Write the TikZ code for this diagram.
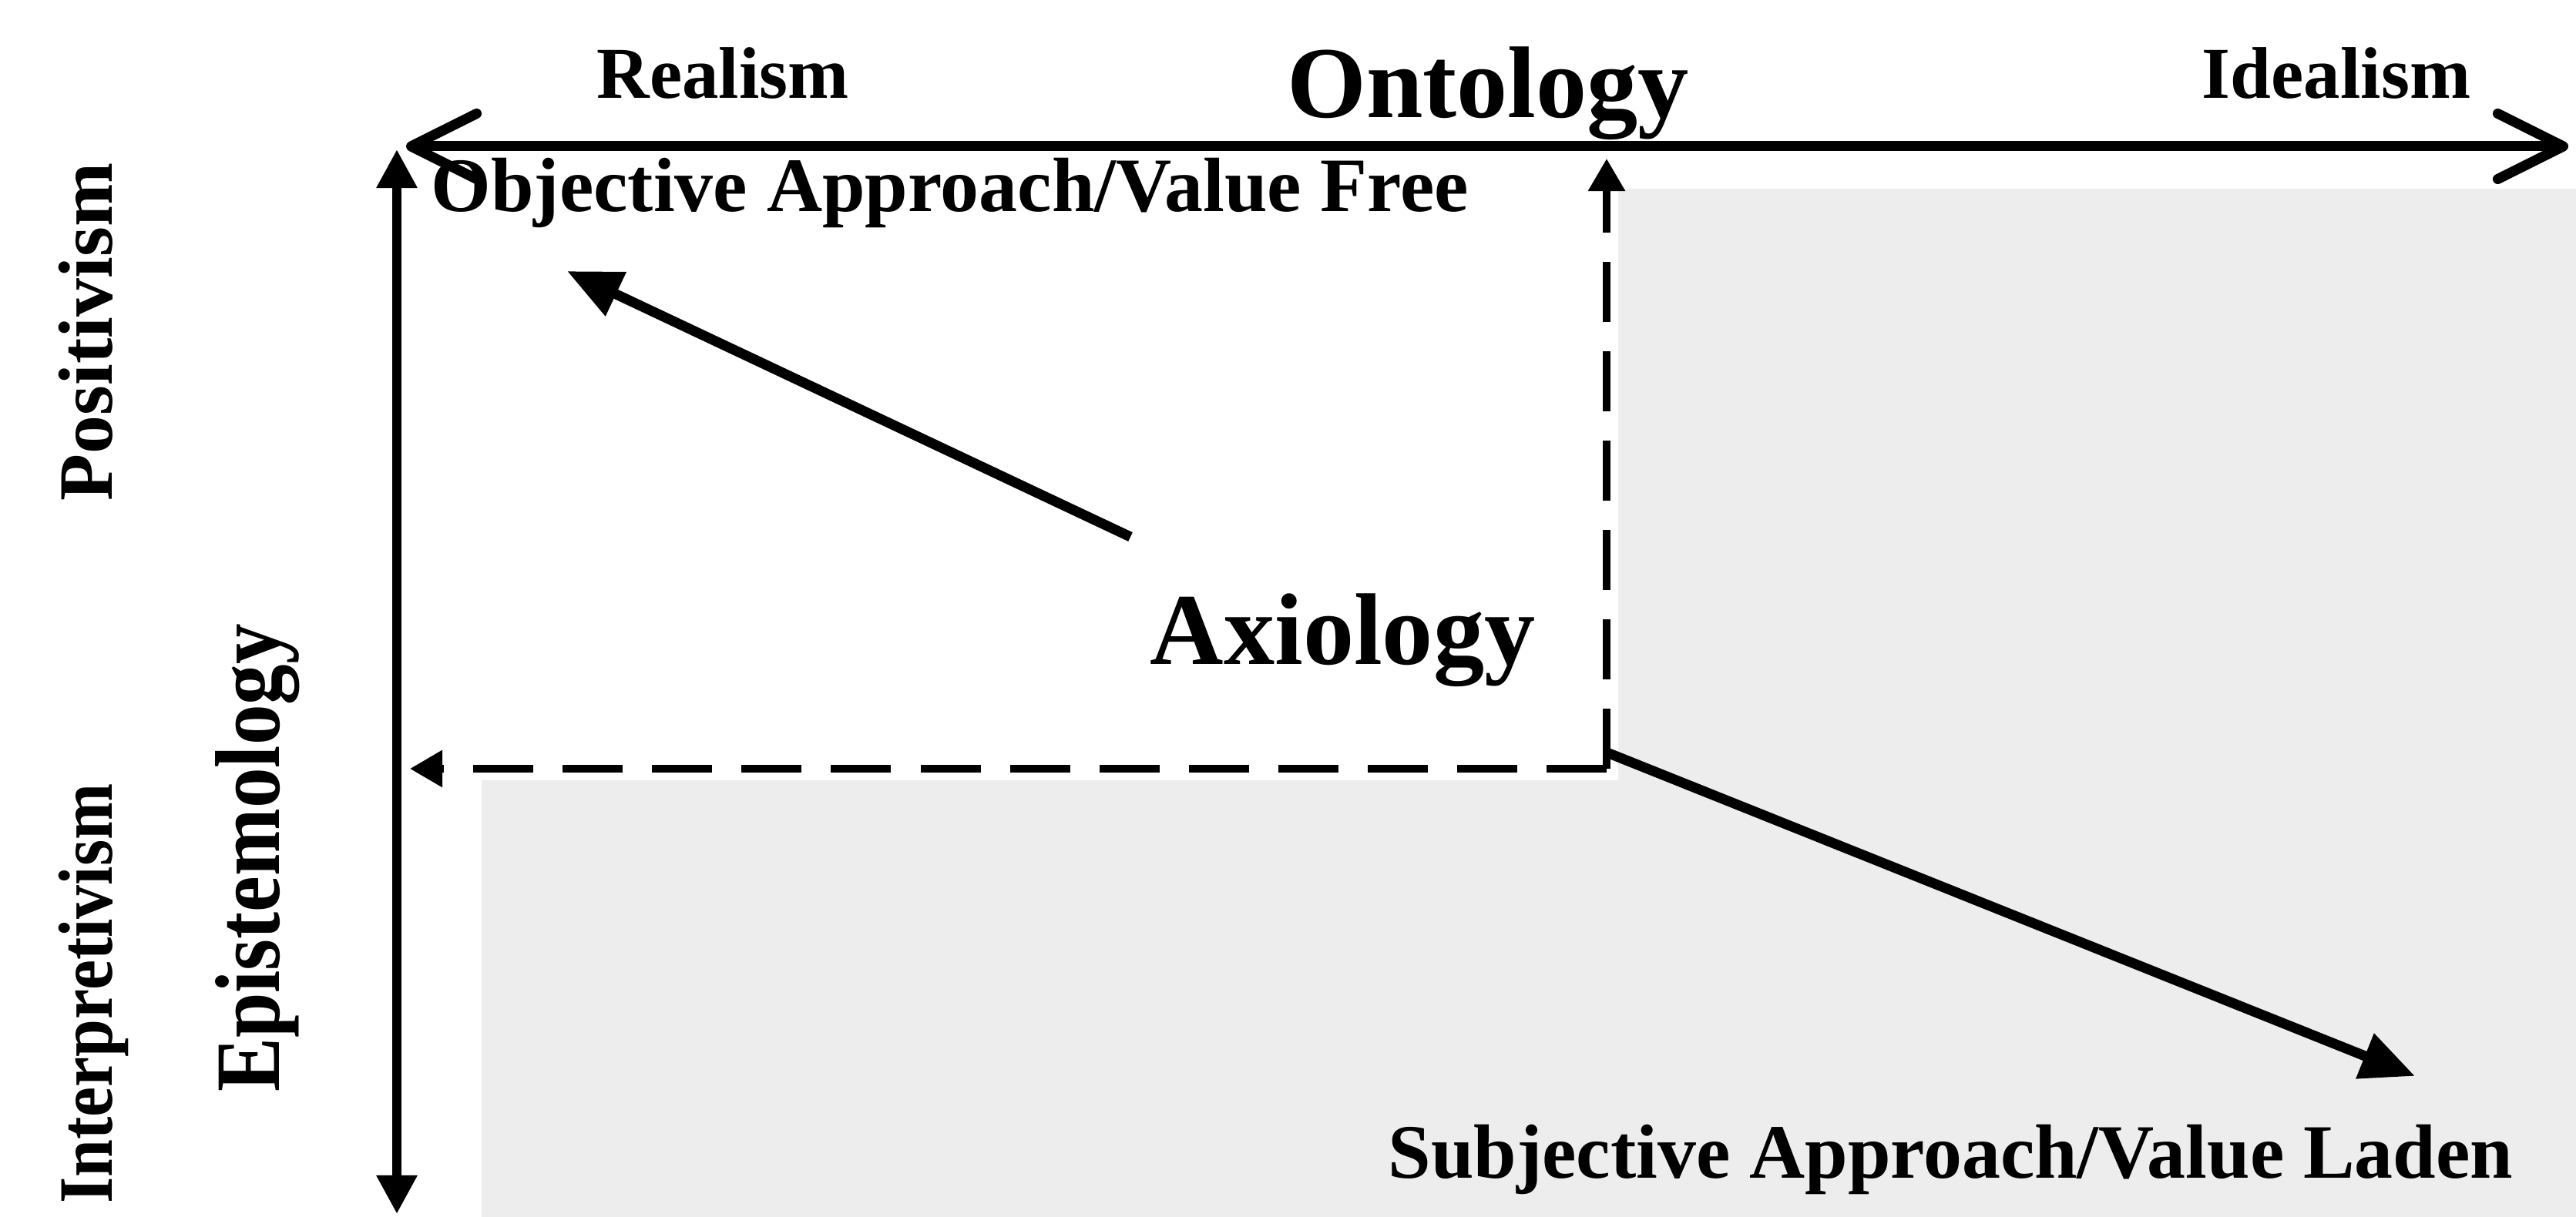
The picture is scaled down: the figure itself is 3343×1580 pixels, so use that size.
\documentclass[tikz,border=0pt]{standalone}
\usepackage{fontspec}
\setmainfont{Liberation Serif}
\usetikzlibrary{arrows.meta}
\definecolor{shadegray}{HTML}{EDEDED}
\begin{document}
\begin{tikzpicture}[x=0.01cm,y=-0.01cm,
  txtS/.style={font=\bfseries\fontsize{27}{30}\selectfont, inner sep=0pt},
  txtM/.style={font=\bfseries\fontsize{28.4}{32}\selectfont, inner sep=0pt},
  txtL/.style={font=\bfseries\fontsize{37.6}{42}\selectfont, inner sep=0pt},
  txtE/.style={font=\bfseries\fontsize{34}{38}\selectfont, inner sep=0pt},
  haxis/.style={line width=3.7pt, {Straight Barb[length=8.5mm,width=8.5mm,round]}-{Straight Barb[length=8.5mm,width=8.5mm,round]}},
  vaxis/.style={line width=3.4pt, {Triangle[length=5mm,width=5mm]}-{Triangle[length=5mm,width=5mm]}},
  guide/.style={line width=2.6pt, dash pattern=on 0.78cm off 0.38cm, -{Triangle[length=4.2mm,width=4.6mm]}},
  pointer/.style={line width=3.7pt, -{Triangle[length=7mm,width=6mm]}}]
\useasboundingbox (0,0) rectangle (3343,1580);
\fill[white] (0,0) rectangle (3343,1580);
% light grey L-shaped region
\fill[shadegray] (2100,245) -| (3343,1580) -| (625,1013) -| (2100,245) -- cycle;

% key points
\coordinate (hl) at (527,190);
\coordinate (hr) at (3333,190);
\coordinate (vt) at (515,194);
\coordinate (vb) at (515,1576);
\coordinate (corner) at (2085,998);
\coordinate (dtop) at (2085,206);
\coordinate (dleft) at (532,998);
\coordinate (axtail) at (1467,697);
\coordinate (objtip) at (736,352);
\coordinate (cornerout) at (2088,978);
\coordinate (subtip) at (3134,1397);

% labels
\node[txtS, anchor=base] (realism) at (938,128) {Realism};
\node[txtS, anchor=base] (idealism) at (3032,128) {Idealism};
\node[txtL, anchor=base] (ontology) at (1931,153) {Ontology};
\node[txtM, anchor=base west] (objective) at (559,275) {Objective Approach/Value Free};
\node[txtL, anchor=base west] (axiology) at (1492,863) {Axiology};
\node[txtM, anchor=base west] (subjective) at (1801,1529) {Subjective Approach/Value Laden};
\node[txtM, rotate=90, anchor=base] (positivism) at (145,431) {Positivism};
\node[txtM, rotate=90, anchor=base] (interpretivism) at (145,1290) {\scalebox{0.88}[1]{Interpretivism}};
\node[txtE, rotate=90, anchor=base] (epistemology) at (362,1114) {\scalebox{0.88}[1]{Epistemology}};

% axes
\draw[haxis] (hl) -- (hr);
\draw[vaxis] (vb) -- (vt);

% dashed guides from the corner
\draw[guide] (corner) -- (dtop);
\draw[guide] (corner) -- (dleft);

% value arrows
\draw[pointer] (axtail) -- (objtip);
\draw[pointer] (cornerout) -- (subtip);
\end{tikzpicture}
\end{document}
